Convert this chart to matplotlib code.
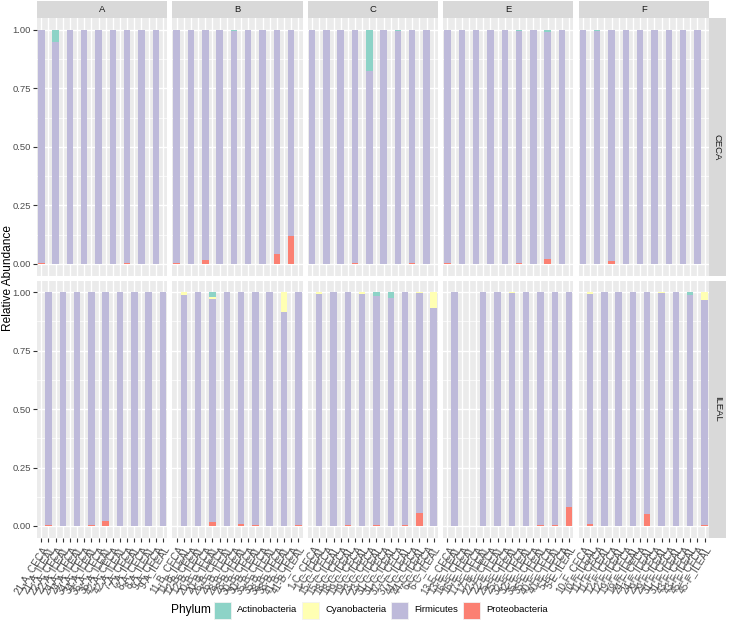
import matplotlib
matplotlib.use("Agg")
import matplotlib.pyplot as plt
from matplotlib.patches import Rectangle
import numpy as np

plt.rcParams['font.family'] = ['Liberation Sans', 'DejaVu Sans']

# facet columns and the animal ids inside each column (sorted as text)
groups = ['A', 'B', 'C', 'E', 'F']
ids = [
    ['21', '22', '24', '34', '36', '42', '7', '8', '9'],
    ['11', '12', '20', '26', '28', '30', '35', '38', '41'],
    ['1', '15', '18', '19', '23', '31', '37', '44', '6'],
    ['13', '16', '17', '22', '25', '32', '35', '40', '5'],
    ['10', '11', '12', '19', '24', '29', '31', '43', '45'],
]
tissues = ['CECA', 'ILEAL']
phyla = ['Actinobacteria', 'Cyanobacteria', 'Firmicutes', 'Proteobacteria']
colors = ['#8DD3C7', '#FFFFB3', '#BEBADA', '#FB8072']

# relative abundance, one row of 9 samples per group
ceca_actino = [
    [0, 0.053, 0, 0, 0, 0, 0, 0, 0],
    [0, 0, 0, 0, 0.005, 0, 0, 0, 0],
    [0, 0, 0, 0, 0.176, 0, 0.003, 0, 0],
    [0, 0, 0, 0, 0, 0.003, 0, 0.008, 0],
    [0, 0.003, 0, 0, 0, 0, 0, 0, 0],
]
ceca_cyano = [
    [0, 0, 0, 0, 0, 0, 0, 0, 0],
    [0, 0, 0, 0, 0, 0, 0, 0, 0],
    [0, 0, 0, 0, 0, 0, 0, 0, 0],
    [0, 0, 0, 0, 0, 0, 0, 0, 0],
    [0, 0, 0, 0, 0, 0, 0, 0, 0],
]
ceca_firm = [
    [0.997, 0.947, 1, 1, 1, 1, 0.997, 1, 1],
    [0.996, 1, 0.983, 1, 0.995, 1, 1, 0.957, 0.88],
    [1, 1, 1, 0.997, 0.824, 1, 0.997, 0.997, 1],
    [0.998, 1, 1, 1, 1, 0.995, 1, 0.971, 1],
    [1, 0.997, 0.99, 1, 1, 1, 1, 1, 1],
]
ceca_proteo = [
    [0.003, 0, 0, 0, 0, 0, 0.003, 0, 0],
    [0.004, 0, 0.017, 0, 0, 0, 0, 0.043, 0.12],
    [0, 0, 0, 0.003, 0, 0, 0, 0.003, 0],
    [0.002, 0, 0, 0, 0, 0.002, 0, 0.021, 0],
    [0, 0, 0.01, 0, 0, 0, 0, 0, 0],
]
ileal_actino = [
    [0, 0, 0, 0, 0, 0, 0, 0, 0],
    [0, 0, 0.021, 0, 0, 0, 0, 0, 0],
    [0, 0, 0, 0, 0.014, 0.023, 0, 0, 0],
    [0, 0, 0, 0, 0, 0, 0, 0, 0],
    [0, 0, 0, 0, 0, 0, 0, 0.01, 0],
]
ileal_cyano = [
    [0, 0, 0, 0, 0, 0, 0, 0, 0],
    [0.011, 0, 0.007, 0, 0, 0, 0, 0.086, 0],
    [0.008, 0, 0, 0.006, 0, 0, 0, 0.004, 0.066],
    [0, 0, 0, 0, 0.003, 0, 0, 0, 0],
    [0.008, 0, 0, 0, 0, 0.003, 0, 0, 0.033],
]
ileal_firm = [
    [0.998, 1, 1, 0.997, 0.98, 1, 1, 1, 1],
    [0.989, 1, 0.955, 1, 0.992, 0.998, 1, 0.914, 0.996],
    [0.992, 1, 0.997, 0.994, 0.982, 0.977, 0.998, 0.94, 0.934],
    [1, 0, 1, 1, 0.997, 1, 0.998, 0.997, 0.918],
    [0.984, 1, 1, 1, 0.95, 0.997, 1, 0.99, 0.964],
]
ileal_proteo = [
    [0.002, 0, 0, 0.003, 0.02, 0, 0, 0, 0],
    [0, 0, 0.017, 0, 0.008, 0.002, 0, 0, 0.004],
    [0, 0, 0.003, 0, 0.004, 0, 0.002, 0.056, 0],
    [0, 0, 0, 0, 0, 0, 0.002, 0.003, 0.082],
    [0.008, 0, 0, 0, 0.05, 0, 0, 0, 0.003],
]

data = {
    'CECA': [ceca_actino, ceca_cyano, ceca_firm, ceca_proteo],
    'ILEAL': [ileal_actino, ileal_cyano, ileal_firm, ileal_proteo],
}

W, H = 729, 620
fig = plt.figure(figsize=(W / 100, H / 100), dpi=100)


def px_axes(x0, y0, x1, y1):
    return fig.add_axes([x0 / W, 1 - y1 / H, (x1 - x0) / W, (y1 - y0) / H])


left, pw, gap = 37, 130.2, 5.2
rows_px = [(18.3, 275.5), (280.6, 537.6)]
tick_col = '#333333'
lab_col = '#4D4D4D'
fs_tick = 6.8

for gi, g in enumerate(groups):
    x0 = left + gi * (pw + gap)
    x1 = x0 + pw
    labels = []
    for sid in ids[gi]:
        labels += [sid + '-' + g + '_CECA', sid + '-' + g + '_ILEAL']
    npos = len(labels)
    for ri, t in enumerate(tissues):
        y0, y1 = rows_px[ri]
        ax = px_axes(x0, y0, x1, y1)
        ax.set_facecolor('#EBEBEB')
        ax.set_axisbelow(True)
        for s in ax.spines.values():
            s.set_visible(False)
        xpos = np.arange(len(ids[gi])) * 2 + ri
        bottom = np.zeros(len(ids[gi]))
        # stack from bottom: Proteobacteria, Firmicutes, Cyanobacteria, Actinobacteria
        for k in [3, 2, 1, 0]:
            vals = np.array(data[t][k][gi], dtype=float)
            ax.bar(xpos, vals, width=0.9, bottom=bottom, color=colors[k],
                   linewidth=0)
            bottom = bottom + vals
        ax.set_xlim(-0.6, npos - 1 + 0.6)
        ax.set_ylim(-0.05, 1.05)
        ax.set_xticks(np.arange(npos))
        ax.set_yticks([0, 0.25, 0.5, 0.75, 1.0])
        ax.set_yticks([0.125, 0.375, 0.625, 0.875], minor=True)
        ax.grid(which='major', color='white', linewidth=1.0)
        ax.grid(which='minor', axis='y', color='white', linewidth=0.5)
        ax.tick_params(which='minor', length=0)
        ax.tick_params(which='major', length=3, width=0.8, color=tick_col,
                       labelcolor=lab_col, labelsize=fs_tick, pad=1.5)
        if gi == 0:
            ax.set_yticklabels(['0.00', '0.25', '0.50', '0.75', '1.00'])
        else:
            ax.tick_params(axis='y', length=0, labelleft=False)
        if ri == 1:
            ax.set_xticklabels(labels, rotation=58, ha='right', va='top',
                               rotation_mode='anchor', fontsize=7.2)
        else:
            ax.tick_params(axis='x', length=0, labelbottom=False)

    # top strip
    sax = px_axes(x0, 1, x1, 18)
    sax.set_facecolor('#D9D9D9')
    sax.set_xticks([])
    sax.set_yticks([])
    for s in sax.spines.values():
        s.set_visible(False)
    sax.text(0.5, 0.5, g, ha='center', va='center', fontsize=fs_tick,
             color='#1A1A1A', transform=sax.transAxes)

# right strips
sx0 = left + 5 * pw + 4 * gap
for ri, t in enumerate(tissues):
    y0, y1 = rows_px[ri]
    sax = px_axes(sx0, y0, sx0 + 17, y1)
    sax.set_facecolor('#D9D9D9')
    sax.set_xticks([])
    sax.set_yticks([])
    for s in sax.spines.values():
        s.set_visible(False)
    sax.text(0.5, 0.5, t, ha='center', va='center', rotation=-90,
             fontsize=fs_tick, color='#1A1A1A', transform=sax.transAxes)

fig.text(8 / W, 1 - 278 / H, 'Relative Abundance', rotation=90,
         ha='center', va='center', fontsize=8.6, color='black')

# legend
ly = 610
fig.text(171 / W, 1 - ly / H, 'Phylum', ha='left', va='center',
         fontsize=8.6, color='black')
key_x = [214, 302, 391, 463]
for k, name in enumerate(phyla):
    fig.add_artist(Rectangle((key_x[k] / W, 1 - (ly + 8.5) / H), 17 / W, 17 / H,
                             transform=fig.transFigure, facecolor=colors[k],
                             edgecolor='#F2F2F2', linewidth=0.6))
    fig.text((key_x[k] + 23) / W, 1 - ly / H, name, ha='left', va='center',
             fontsize=fs_tick, color='black')

plt.savefig("out.png", dpi=100)
